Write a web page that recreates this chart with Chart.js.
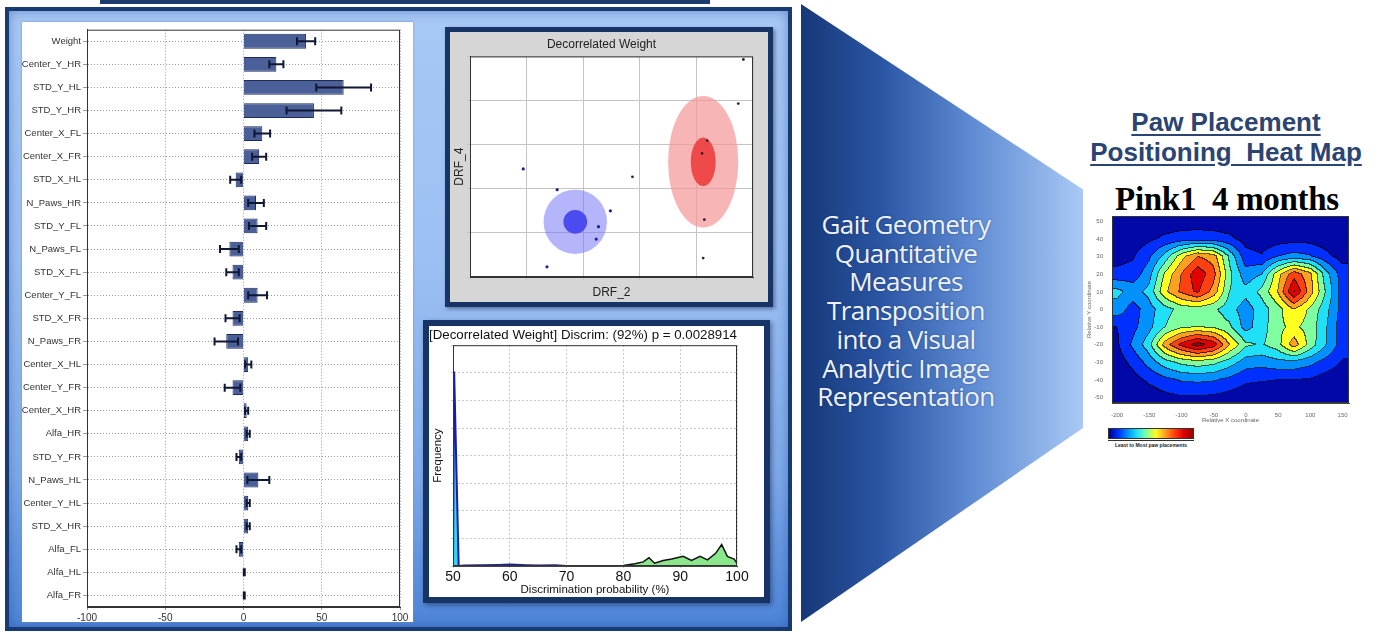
<!DOCTYPE html>
<html>
<head>
<meta charset="utf-8">
<script src="https://cdn.jsdelivr.net/npm/chart.js@4/dist/chart.umd.min.js"></script>
<style>
body{margin:0;width:1382px;height:632px;background:#fff;position:relative;overflow:hidden;font-family:'Liberation Sans',Arial,sans-serif}
.abs{position:absolute}
#topbar{left:100px;top:0;width:610px;height:4px;background:#1d3a6c}
#panel{left:5px;top:7px;width:779px;height:616px;border:4px solid #173a73;
  background:linear-gradient(180deg,#a8c8f5 0%,#9cc0f3 40%,#7eaaea 75%,#4d84d6 100%);
  box-shadow:inset 0 0 12px rgba(30,70,150,.45)}
#barbox{left:22px;top:22px;width:391px;height:600px;background:#fff;box-shadow:0 0 2px #6f8fc0}
#scatbox{left:445px;top:27px;width:318px;height:270px;border:5px solid #163566;background:#d6d6d6;box-shadow:2px 2px 4px rgba(0,0,40,.4)}
#histbox{left:423px;top:320px;width:335px;height:271px;border:6px solid #163566;background:#fff;box-shadow:2px 2px 5px rgba(0,0,40,.4)}
#arrow{left:801px;top:4px;width:282px;height:618px;
  clip-path:polygon(0 0,100% 30%,100% 68.6%,0 100%);
  background:linear-gradient(90deg,#163878 0%,#2a55a3 28%,#5d8ad2 60%,#a9c9f5 100%)}
#arrowtxt{left:790px;top:210px;width:232px;text-align:center;color:#eef3fb;font-family:'Open Sans',sans-serif;font-size:26px;line-height:28.7px;letter-spacing:-0.6px;text-shadow:0 0 2px rgba(20,40,90,.5)}
.ttl{left:1078px;width:296px;text-align:center;color:#2b4471;font-weight:bold;font-size:26px;text-decoration:underline;text-underline-offset:3px}
#pink{left:1070px;top:181px;width:314px;text-align:center;font-family:'Liberation Serif',serif;font-weight:bold;font-size:33px;color:#000;white-space:pre;letter-spacing:-0.3px}
#cbar{left:1108px;top:428px;width:84px;height:9px;border:1px solid #333;
  background:linear-gradient(90deg,#00008f,#0030ff,#0090ff,#20e0f8,#80ffa0,#ffff20,#ffa020,#ff4010,#e00000,#9a0000)}
#cbarlbl{left:1108px;top:440px;width:86px;border-top:1px solid #333;font-size:5px;font-weight:bold;color:#222;text-align:center;padding-top:1px}
</style>
</head>
<body>
<div class="abs" id="topbar"></div>
<div class="abs" id="panel"></div>
<div class="abs" id="barbox"><canvas id="bars" width="391" height="600"></canvas></div>
<div class="abs" id="scatbox"><canvas id="scat" width="318" height="270"></canvas></div>
<div class="abs" id="histbox"><canvas id="hist" width="335" height="271"></canvas></div>
<div class="abs" id="arrow"></div>
<div class="abs" id="arrowtxt">Gait Geometry<br>Quantitative<br>Measures<br>Transposition<br>into a Visual<br>Analytic Image<br>Representation</div>
<div class="abs ttl" style="top:107px">Paw Placement</div>
<div class="abs ttl" style="top:137px">Positioning&nbsp; Heat Map</div>
<div class="abs" id="pink">Pink1  4 months</div>
<canvas class="abs" id="heat" width="270" height="215" style="left:1085px;top:210px"></canvas>
<div class="abs" id="cbar"></div>
<div class="abs" id="cbarlbl">Least to Most paw placements</div>

<script>
// ---- bar chart data (feature weights, %)
var features = ['Weight','Center_Y_HR','STD_Y_HL','STD_Y_HR','Center_X_FL','Center_X_FR','STD_X_HL','N_Paws_HR','STD_Y_FL','N_Paws_FL','STD_X_FL','Center_Y_FL','STD_X_FR','N_Paws_FR','Center_X_HL','Center_Y_FR','Center_X_HR','Alfa_HR','STD_Y_FR','N_Paws_HL','Center_Y_HL','STD_X_HR','Alfa_FL','Alfa_HL','Alfa_FR'];
var effects  = [40, 21, 64, 45, 12, 10, -5, 8, 9, -9, -7, 9, -7, -11, 3, -7, 2, 3, -3, 9.5, 3, 3, -3, 0.5, 0.5];
var errors   = [5.8, 4.5, 17.5, 17.5, 5, 4.5, 3.5, 5, 5.5, 6, 4, 6, 4.5, 7.5, 2, 5, 1, 1, 1.5, 7, 1, 1, 1.5, 0.3, 0.3];
var barTicks = [-100, -50, 0, 50, 100];

// ---- decorrelated weight scatter
var blueX = [1.54, 2.23, 2.27, 2.48, 1.36, 0.94];
var blueY = [1.98, 0.86, 1.14, 1.50, 0.23, 2.45];
var redX  = [4.10, 4.19, 4.14, 4.12, 4.74, 4.83, 2.87];
var redY  = [2.80, 3.09, 1.30, 0.43, 3.93, 4.93, 2.27];
// ellipses: centre x, centre y, radius x, radius y
var ellCx = [1.86, 1.86, 4.12, 4.12];
var ellCy = [1.25, 1.25, 2.61, 2.61];
var ellRx = [0.56, 0.21, 0.62, 0.22];
var ellRy = [0.73, 0.27, 1.49, 0.55];
var ellColors = ['rgba(120,120,250,0.55)', '#4b4bf0', 'rgba(245,150,150,0.7)', '#ef4a4a'];

// ---- discrimination histogram
var chanceX = [50, 50.2, 51, 52, 55, 58, 60, 63, 65, 68, 70];
var chanceY = [0, 7.05, 0, 0.02, 0.03, 0.04, 0.05, 0.03, 0.02, 0.03, 0];
var realX = [70, 75, 80, 82, 83.5, 84.5, 85.5, 87, 88.5, 90.5, 92, 93.5, 94.8, 96.2, 97.3, 98.3, 99.5, 100];
var realY = [0, 0.01, 0.02, 0.08, 0.15, 0.3, 0.1, 0.2, 0.25, 0.35, 0.2, 0.35, 0.22, 0.45, 0.78, 0.35, 0.25, 0.1];

// ---- paw placement heat map grid (rows y=50..-50, cols x=-200..150)
var heatX = [-200, -175, -150, -125, -100, -75, -50, -25, 0, 25, 50, 75, 100, 125, 150];
var heatY = [50, 40, 30, 20, 10, 0, -10, -20, -30, -40, -50];
var heatZ = [
  [0.2,0.2,0.3,0.4,0.5,0.5,0.5,0.4,0.3,0.2,0.2,0.2,0.2,0.2,0.2],
  [0.3,0.4,0.8,1.2,1.4,1.5,1.4,1.2,0.6,0.4,0.5,0.6,0.6,0.4,0.2],
  [0.6,0.9,1.8,3.4,5.6,7.0,6.5,3.8,1.4,1.1,2.0,2.4,2.1,1.3,0.6],
  [1.3,1.4,2.6,5.2,7.0,8.7,7.4,4.3,2.4,3.0,5.6,7.6,6.3,3.4,1.5],
  [3.3,2.6,3.3,5.8,7.2,8.2,6.6,4.0,3.3,4.3,6.0,9.1,6.5,3.9,1.5],
  [2.6,1.5,2.6,3.6,4.4,4.5,4.2,3.4,2.5,3.5,4.6,6.0,4.8,3.3,1.6],
  [1.0,1.7,2.7,4.0,4.8,5.0,4.8,4.2,2.6,3.5,4.8,5.2,4.6,3.1,1.4],
  [0.8,2.2,3.6,6.5,8.3,9.5,8.6,6.0,4.2,3.9,4.6,6.6,4.6,3.0,1.5],
  [0.5,1.3,2.4,3.6,4.3,4.6,4.3,3.5,2.5,2.4,2.7,2.7,2.3,1.6,0.9],
  [0.2,0.6,1.2,1.7,2.1,2.2,2.1,1.7,1.2,1.1,1.0,1.0,0.9,0.5,0.3],
  [0.2,0.2,0.4,0.7,0.9,0.9,0.8,0.6,0.3,0.2,0.2,0.2,0.2,0.2,0.2]
];
var heatXTicks = [-200, -150, -100, -50, 0, 50, 100, 150];
var heatYTicks = [50, 40, 30, 20, 10, 0, -10, -20, -30, -40, -50];
var jet = [[0,8,168],[0,48,255],[0,144,255],[32,224,248],[128,255,160],[255,255,32],[255,160,32],[255,64,16],[224,0,0],[154,0,0]];

Chart.defaults.font.family = "'Liberation Sans', Arial, sans-serif";
Chart.defaults.animation = false;
Chart.defaults.plugins.legend.display = false;
Chart.defaults.plugins.tooltip.enabled = false;

// box round the plot area, MATLAB style
var boxPlugin = {
	id: 'box',
	afterDraw: function(chart){
		var a = chart.chartArea, ctx = chart.ctx;
		ctx.save();
		ctx.strokeStyle = '#333';
		ctx.lineWidth = 1;
		ctx.strokeRect(a.left + 0.5, a.top + 0.5, a.width - 1, a.height - 1);
		ctx.restore();
	}
};

var errorBars = {
	id: 'errorBars',
	afterDatasetsDraw: function(chart){
		var ctx = chart.ctx, x = chart.scales.x, y = chart.scales.y;
		ctx.save();
		ctx.strokeStyle = '#0f1733';
		ctx.lineWidth = 2;
		effects.forEach(function(m, i){
			var yy = y.getPixelForValue(i);
			var x0 = x.getPixelForValue(m - errors[i]), x1 = x.getPixelForValue(m + errors[i]);
			ctx.beginPath();
			ctx.moveTo(x0, yy); ctx.lineTo(x1, yy);
			ctx.moveTo(x0, yy - 4); ctx.lineTo(x0, yy + 4);
			ctx.moveTo(x1, yy - 4); ctx.lineTo(x1, yy + 4);
			ctx.stroke();
		});
		ctx.restore();
	}
};

new Chart(document.getElementById('bars'), {
	type: 'bar',
	data: {
		labels: features,
		datasets: [{ data: effects, backgroundColor: '#4b5f98', borderColor: '#1d2b5a', borderWidth: 1,
			barPercentage: 0.78, categoryPercentage: 0.82 }]
	},
	options: {
		indexAxis: 'y', responsive: false,
		layout: { padding: { top: 2, right: 13 } },
		scales: {
			x: {
				min: -100, max: 100,
				afterBuildTicks: function(s){ s.ticks = barTicks.map(function(v){ return {value: v}; }); },
				afterFit: function(s){ s.height = 15; },
				ticks: { font: { size: 10 }, color: '#333', maxRotation: 0, padding: 2 },
				grid: { color: '#9a9a9a', tickLength: 3 },
				border: { dash: [1, 2], color: '#333' }
			},
			y: {
				afterFit: function(s){ s.width = 65; },
				ticks: { font: { size: 9.5 }, color: '#333', autoSkip: false, padding: 2 },
				grid: { offset: false, color: '#9a9a9a', tickLength: 4 },
				border: { dash: [1, 2], color: '#333' }
			}
		}
	},
	plugins: [errorBars, boxPlugin]
});

// scatter with confidence ellipses
var ellipses = {
	id: 'ellipses',
	beforeDatasetsDraw: function(chart){
		var ctx = chart.ctx, x = chart.scales.x, y = chart.scales.y;
		ctx.save();
		for (var i = 0; i < ellCx.length; i++) {
			var cx = x.getPixelForValue(ellCx[i]), cy = y.getPixelForValue(ellCy[i]);
			var rx = Math.abs(x.getPixelForValue(ellCx[i] + ellRx[i]) - cx);
			var ry = Math.abs(y.getPixelForValue(ellCy[i] + ellRy[i]) - cy);
			ctx.fillStyle = ellColors[i];
			ctx.beginPath();
			ctx.ellipse(cx, cy, rx, ry, 0, 0, Math.PI * 2);
			ctx.fill();
		}
		ctx.restore();
	}
};
var whiteArea = {
	id: 'whiteArea',
	beforeDraw: function(chart){
		var a = chart.chartArea;
		chart.ctx.save();
		chart.ctx.fillStyle = '#fff';
		chart.ctx.fillRect(a.left, a.top, a.width, a.height);
		chart.ctx.restore();
	}
};

new Chart(document.getElementById('scat'), {
	type: 'scatter',
	data: {
		datasets: [
			{ data: blueX.map(function(v, i){ return {x: v, y: blueY[i]}; }), pointRadius: 1.6, pointBackgroundColor: '#22228a', pointBorderWidth: 0 },
			{ data: redX.map(function(v, i){ return {x: v, y: redY[i]}; }), pointRadius: 1.4, pointBackgroundColor: '#3a2030', pointBorderWidth: 0 }
		]
	},
	options: {
		responsive: false,
		layout: { padding: { right: 15, top: 0 } },
		plugins: { title: { display: true, text: 'Decorrelated Weight', color: '#222', font: { size: 12, weight: 'normal' }, padding: { top: 5, bottom: 5 } } },
		scales: {
			x: { min: 0, max: 5, ticks: { display: false, stepSize: 1 }, grid: { color: '#c4c4c4', tickLength: 3 },
				border: { color: '#333' },
				title: { display: true, text: 'DRF_2', color: '#222', font: { size: 12 }, padding: 2 },
				afterFit: function(s){ s.height = 25; } },
			y: { min: 0, max: 5, ticks: { display: false, stepSize: 1 }, grid: { color: '#c4c4c4', tickLength: 3 },
				border: { color: '#333' },
				title: { display: true, text: 'DRF_4', color: '#222', font: { size: 12 }, padding: 2 },
				afterFit: function(s){ s.width = 20; } }
		}
	},
	plugins: [whiteArea, ellipses, boxPlugin]
});

// histogram of discrimination probability
new Chart(document.getElementById('hist'), {
	type: 'line',
	data: {
		datasets: [
			{ data: chanceX.map(function(v, i){ return {x: v, y: chanceY[i]}; }), borderColor: '#1c1ca8', borderWidth: 2,
				backgroundColor: '#30d6f2', fill: 'origin', pointRadius: 0, tension: 0 },
			{ data: realX.map(function(v, i){ return {x: v, y: realY[i]}; }), borderColor: '#111', borderWidth: 1.5,
				backgroundColor: '#8ae88a', fill: 'origin', pointRadius: 0, tension: 0 }
		]
	},
	options: {
		responsive: false,
		layout: { padding: { right: 27 } },
		plugins: { title: { display: true, text: '[Decorrelated Weight] Discrim: (92%) p = 0.0028914', color: '#111',
			font: { size: 13.5, weight: 'normal' }, padding: { top: 1, bottom: 2 } } },
		scales: {
			x: { type: 'linear', min: 50, max: 100, ticks: { stepSize: 10, color: '#111', font: { size: 14 }, padding: 1, maxRotation: 0 },
				grid: { color: '#c8c8c8', tickLength: 2 }, border: { dash: [2, 2], color: '#444' },
				title: { display: true, text: 'Discrimination probability (%)', color: '#111', font: { size: 11.5 }, padding: 0 },
				afterFit: function(s){ s.height = 31; } },
			y: { min: 0, max: 8, ticks: { display: false, stepSize: 1 },
				grid: { color: '#c8c8c8', tickLength: 2 }, border: { dash: [2, 2], color: '#444' },
				title: { display: true, text: 'Frequency', color: '#111', font: { size: 11.5 }, padding: 2 },
				afterFit: function(s){ s.width = 24; } }
		}
	},
	plugins: [boxPlugin]
});

// filled contour map drawn from the grid through the chart scales
function heatValue(xv, yv){
	var fx = (xv - heatX[0]) / (heatX[1] - heatX[0]);
	var fy = (heatY[0] - yv) / (heatY[0] - heatY[1]);
	fx = Math.max(0, Math.min(heatX.length - 1.0001, fx));
	fy = Math.max(0, Math.min(heatY.length - 1.0001, fy));
	var c = Math.floor(fx), r = Math.floor(fy), tx = fx - c, ty = fy - r;
	var top = heatZ[r][c] * (1 - tx) + heatZ[r][c + 1] * tx;
	var bot = heatZ[r + 1][c] * (1 - tx) + heatZ[r + 1][c + 1] * tx;
	return top * (1 - ty) + bot * ty;
}
var contourFill = {
	id: 'contourFill',
	beforeDatasetsDraw: function(chart){
		var a = chart.chartArea, x = chart.scales.x, y = chart.scales.y;
		var w = Math.round(a.width), h = Math.round(a.height);
		var off = document.createElement('canvas');
		off.width = w; off.height = h;
		var octx = off.getContext('2d');
		var img = octx.createImageData(w, h);
		var lv = new Int8Array(w * h);
		for (var j = 0; j < h; j++) {
			var yv = y.getValueForPixel(a.top + j + 0.5);
			for (var i = 0; i < w; i++) {
				var v = heatValue(x.getValueForPixel(a.left + i + 0.5), yv);
				lv[j * w + i] = Math.max(0, Math.min(jet.length - 1, Math.floor(v)));
			}
		}
		for (var j = 0; j < h; j++) {
			for (var i = 0; i < w; i++) {
				var k = j * w + i, l = lv[k], col = jet[l];
				var edge = (i < w - 1 && lv[k + 1] !== l) || (j < h - 1 && lv[k + w] !== l);
				img.data[k * 4]     = edge ? col[0] * 0.35 : col[0];
				img.data[k * 4 + 1] = edge ? col[1] * 0.35 : col[1];
				img.data[k * 4 + 2] = edge ? col[2] * 0.35 : col[2];
				img.data[k * 4 + 3] = 255;
			}
		}
		octx.putImageData(img, 0, 0);
		chart.ctx.drawImage(off, a.left, a.top);
	}
};

var gridPts = [];
heatY.forEach(function(yv){ heatX.forEach(function(xv){ gridPts.push({x: xv, y: yv}); }); });

new Chart(document.getElementById('heat'), {
	type: 'scatter',
	data: { datasets: [{ data: gridPts, pointRadius: 0 }] },
	options: {
		responsive: false,
		layout: { padding: { top: 6, right: 6 } },
		scales: {
			x: { min: -208, max: 160,
				afterBuildTicks: function(s){ s.ticks = heatXTicks.map(function(v){ return {value: v}; }); },
				ticks: { font: { size: 6 }, color: '#666', padding: 1, maxRotation: 0 },
				grid: { display: false }, border: { color: '#444' },
				title: { display: true, text: 'Relative X coordinate', color: '#666', font: { size: 6 }, padding: 1 },
				afterFit: function(s){ s.height = 22; } },
			y: { min: -53, max: 53,
				afterBuildTicks: function(s){ s.ticks = heatYTicks.map(function(v){ return {value: v}; }); },
				ticks: { font: { size: 6 }, color: '#666', padding: 1 },
				grid: { display: false }, border: { color: '#444' },
				title: { display: true, text: 'Relative Y coordinate', color: '#666', font: { size: 6 }, padding: 1 },
				afterFit: function(s){ s.width = 27; } }
		}
	},
	plugins: [contourFill, boxPlugin]
});
</script>
</body>
</html>
